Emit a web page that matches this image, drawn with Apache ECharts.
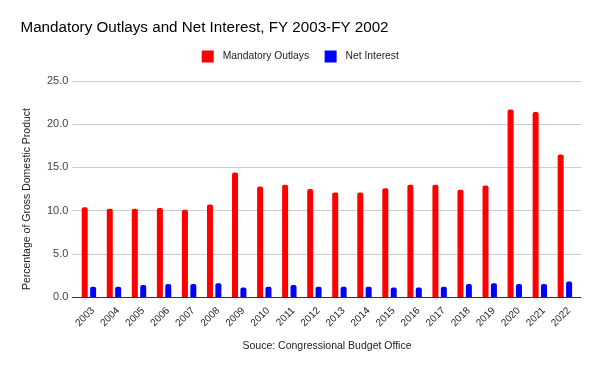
<!DOCTYPE html>
<html><head><meta charset="utf-8">
<script src="https://cdn.jsdelivr.net/npm/echarts@6/dist/echarts.min.js"></script>
<style>html,body{margin:0;padding:0;background:#fff}#c{width:600px;height:371px}</style>
</head><body><div id="c"></div>
<script>
const years = ['2003','2004','2005','2006','2007','2008','2009','2010','2011','2012','2013','2014','2015','2016','2017','2018','2019','2020','2021','2022'];
const mandatoryOutlays = [10.4,10.2,10.2,10.3,10.1,10.7,14.4,12.8,13.0,12.5,12.1,12.1,12.6,13.0,13.0,12.4,12.9,21.7,21.4,16.5];
const netInterest = [1.2,1.2,1.4,1.5,1.5,1.6,1.1,1.2,1.4,1.2,1.2,1.2,1.1,1.1,1.2,1.5,1.6,1.5,1.5,1.8];
const yMin = 0, yMax = 25, yStep = 5;

const chart = echarts.init(document.getElementById('c'), null, {renderer:'canvas'});
const font = 'Liberation Sans, Arial, sans-serif';
chart.setOption({
  animation:false,
  backgroundColor:'#fff',
  title:{text:'Mandatory Outlays and Net Interest, FY 2003-FY 2002', left:20.5, top:20.5, padding:0,
    textStyle:{fontFamily:font, fontSize:15.2, fontWeight:'normal', color:'#000'}},
  legend:{top:50.5, left:201.7, padding:0, itemWidth:12, itemHeight:12, itemGap:15.5, icon:'rect',
    textStyle:{fontFamily:font, fontSize:10.3, color:'#222', padding:[0,0,0,4]},
    data:['Mandatory Outlays','Net Interest']},
  grid:[
    {left:76.4, right:22.6, top:81, bottom:74},
    {left:72.3, right:19, top:81, bottom:74},
    {left:80.4, right:18.6, top:81, bottom:74}
  ],
  xAxis:[
    {type:'category', data:years, gridIndex:0, axisTick:{show:false}, axisLine:{show:false}, axisLabel:{show:false}},
    {type:'value', gridIndex:1, min:0, max:1, axisTick:{show:false}, axisLabel:{show:false}, splitLine:{show:false},
     axisLine:{show:true, lineStyle:{color:'#333'}}},
    {type:'category', data:years, gridIndex:2, axisTick:{show:false}, axisLine:{show:false},
     axisLabel:{rotate:45, interval:0, fontFamily:font, fontSize:10, color:'#222', margin:12}}
  ],
  yAxis:[
    {type:'value', gridIndex:0, min:yMin, max:yMax, interval:yStep, show:false},
    {type:'value', gridIndex:1, min:yMin, max:yMax, interval:yStep,
     axisLine:{show:false}, axisTick:{show:false},
     axisLabel:{formatter:v=>v.toFixed(1), fontFamily:font, fontSize:11, color:'#444', margin:4},
     splitLine:{lineStyle:{color:'#ccc'}}},
    {type:'value', gridIndex:2, min:yMin, max:yMax, interval:yStep, show:false}
  ],
  graphic:[
    {type:'text', left:21.5, top:108, rotation:Math.PI/2,
     style:{text:'Percentage of Gross Domestic Product', font:'10.5px '+font, fill:'#222'}},
    {type:'text', x:327, y:346.5, style:{text:'Souce: Congressional Budget Office', font:'10.5px '+font, fill:'#222', textAlign:'center', textVerticalAlign:'middle'}}
  ],
  series:[
    {name:'Mandatory Outlays', type:'bar', xAxisIndex:0, yAxisIndex:0, data:mandatoryOutlays, barWidth:6, barGap:'40%',
     itemStyle:{color:'#ff0000', borderRadius:[2,2,0,0]}},
    {name:'Net Interest', type:'bar', xAxisIndex:0, yAxisIndex:0, data:netInterest, barWidth:6,
     itemStyle:{color:'#0000ff', borderRadius:[2,2,0,0]}}
  ]
});
</script></body></html>
